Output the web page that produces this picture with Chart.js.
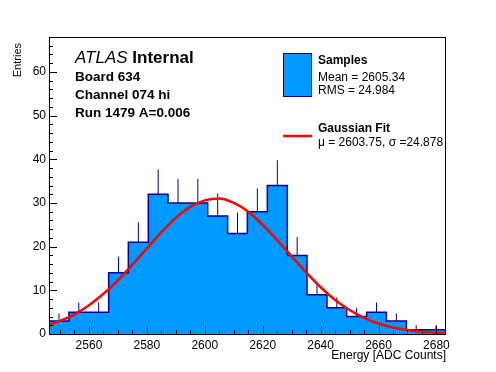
<!DOCTYPE html>
<html>
<head>
<meta charset="utf-8">
<script src="https://cdn.jsdelivr.net/npm/chart.js@4.4.1/dist/chart.umd.min.js"></script>
<style>
  html, body { margin: 0; padding: 0; background: #fff; }
</style>
</head>
<body>
<canvas id="histChart" width="496" height="372"></canvas>
<script>
// histogram bins (lower edges + last upper edge), counts and upper error bars
const binEdges = [2546.2, 2553.1, 2559.9, 2566.8, 2573.6, 2580.5, 2587.3, 2594.2, 2601.0, 2607.9, 2614.7,
                  2621.6, 2628.5, 2635.3, 2642.2, 2649.0, 2655.9, 2662.7, 2669.6, 2676.4, 2683.3];
const counts = [3, 5, 5, 14, 21, 32, 30, 30, 27, 23, 28, 34, 18, 9, 6, 4, 5, 3, 1, 1];
const errors = [1.7, 2.2, 2.2, 3.7, 4.6, 5.7, 5.5, 5.5, 5.2, 4.8, 5.3, 5.8, 4.2, 3.0, 2.4, 2.0, 2.2, 1.7, 1.0, 1.0];

// gaussian fit curve
const fitX = [2545, 2550, 2555, 2560, 2565, 2570, 2575, 2580, 2585, 2590, 2595, 2600, 2605, 2610, 2615,
              2620, 2625, 2630, 2635, 2640, 2645, 2650, 2655, 2660, 2665, 2670, 2675, 2680, 2685];
const fitY = [1.9, 3.0, 4.5, 6.6, 9.2, 12.3, 15.9, 19.6, 23.3, 26.6, 29.1, 30.6, 31.0, 30.0, 28.0,
              25.0, 21.5, 17.8, 14.1, 10.7, 7.8, 5.5, 3.7, 2.4, 1.5, 0.9, 0.5, 0.3, 0.15];

const xTicks = [2560, 2580, 2600, 2620, 2640, 2660, 2680];
const yTicks = [0, 10, 20, 30, 40, 50, 60];
const yMax = 68;

const labelLines = ['Board 634', 'Channel 074 hi', 'Run 1479 A=0.006'];
const sampleStats = ['Mean = 2605.34', 'RMS = 24.984'];
const fitStats = 'μ = 2603.75, σ =24.878';

const FONT = "'Liberation Sans', Arial, Helvetica, sans-serif";
const FILL = '#0099ff';
const EDGE = '#000099';

const histData = counts.map((c, i) => ({ x: binEdges[i], y: c }));
histData.push({ x: binEdges[binEdges.length - 1], y: counts[counts.length - 1] });

const errData = [];
counts.forEach((c, i) => {
  const cx = (binEdges[i] + binEdges[i + 1]) / 2;
  errData.push({ x: cx, y: c }, { x: cx, y: c + errors[i] }, { x: cx, y: null });
});

const fitData = fitX.map((v, i) => ({ x: v, y: fitY[i] }));

const rootStyle = {
  id: 'rootStyle',
  afterDatasetsDraw(chart) {
    const { ctx, chartArea: a, scales: { x, y } } = chart;
    ctx.save();
    ctx.strokeStyle = '#000';
    ctx.lineWidth = 1;
    ctx.beginPath();
    for (let v = 2550; v <= binEdges[binEdges.length - 1]; v += 5) {
      const px = Math.round(x.getPixelForValue(v)) + 0.5;
      const len = xTicks.includes(v) ? 8 : 4;
      ctx.moveTo(px, a.bottom);
      ctx.lineTo(px, a.bottom - len);
    }
    for (let v = 0; v <= yMax; v += 2) {
      const py = Math.round(y.getPixelForValue(v)) + 0.5;
      const len = yTicks.includes(v) ? 8 : 4;
      ctx.moveTo(a.left, py);
      ctx.lineTo(a.left + len, py);
    }
    ctx.stroke();
    ctx.strokeRect(Math.round(a.left) + 0.5, Math.round(a.top) + 0.5,
                   Math.round(a.right - a.left) - 1, Math.round(a.bottom - a.top));
    ctx.restore();
  },
  afterDraw(chart) {
    const { ctx, chartArea: a } = chart;
    ctx.save();
    ctx.fillStyle = '#000';
    ctx.textBaseline = 'middle';

    // axis titles
    ctx.font = '12px ' + FONT;
    ctx.textAlign = 'right';
    ctx.fillText('Energy [ADC Counts]', a.right, 356);
    ctx.font = '11px ' + FONT;
    ctx.save();
    ctx.translate(18, a.top + 6);
    ctx.rotate(-Math.PI / 2);
    ctx.fillText('Entries', 0, 0);
    ctx.restore();

    // ATLAS label block
    ctx.textAlign = 'left';
    ctx.font = 'italic 17px ' + FONT;
    ctx.fillText('ATLAS', 75, 58);
    const w = ctx.measureText('ATLAS ').width;
    ctx.font = 'bold 17px ' + FONT;
    ctx.fillText('Internal', 75 + w, 58);
    ctx.font = 'bold 13.5px ' + FONT;
    labelLines.forEach((t, i) => ctx.fillText(t, 75, 77 + i * 18.3));

    // legend
    ctx.fillStyle = FILL;
    ctx.fillRect(283, 53, 29, 44);
    ctx.strokeStyle = EDGE;
    ctx.lineWidth = 1;
    ctx.strokeRect(283.5, 53.5, 28, 43);
    ctx.fillStyle = '#000';
    ctx.font = 'bold 12px ' + FONT;
    ctx.fillText('Samples', 318, 61);
    ctx.font = '12px ' + FONT;
    ctx.fillText(sampleStats[0], 318, 77.5);
    ctx.fillText(sampleStats[1], 318, 91);
    ctx.strokeStyle = '#ff0000';
    ctx.lineWidth = 2.5;
    ctx.beginPath();
    ctx.moveTo(283, 136);
    ctx.lineTo(312, 136);
    ctx.stroke();
    ctx.font = 'bold 12px ' + FONT;
    ctx.fillText('Gaussian Fit', 318, 129);
    ctx.font = '12px ' + FONT;
    ctx.fillText(fitStats, 318, 142.5);
    ctx.restore();
  }
};

new Chart(document.getElementById('histChart'), {
  type: 'scatter',
  data: {
    datasets: [
      {
        label: 'Gaussian Fit',
        data: fitData,
        showLine: true,
        borderColor: '#ff0000',
        borderWidth: 2.5,
        pointRadius: 0,
        cubicInterpolationMode: 'monotone',
        fill: false
      },
      {
        label: 'errors',
        data: errData,
        showLine: true,
        spanGaps: false,
        borderColor: EDGE,
        borderWidth: 1,
        pointRadius: 0,
        fill: false
      },
      {
        label: 'Samples',
        data: histData,
        showLine: true,
        stepped: true,
        borderColor: EDGE,
        borderWidth: 1.5,
        backgroundColor: FILL,
        pointRadius: 0,
        fill: 'origin'
      }
    ]
  },
  options: {
    responsive: false,
    animation: false,
    devicePixelRatio: 1,
    layout: { padding: { top: 37, right: 50, left: 0, bottom: 0 } },
    plugins: { legend: { display: false }, tooltip: { enabled: false } },
    scales: {
      x: {
        type: 'linear',
        min: binEdges[0],
        max: binEdges[binEdges.length - 1],
        afterBuildTicks: (s) => { s.ticks = xTicks.map(v => ({ value: v })); },
        afterFit: (s) => { s.height = 38; },
        grid: { display: false, drawTicks: false },
        border: { display: false },
        ticks: {
          padding: 4, color: '#000', font: { family: FONT, size: 12 }, maxRotation: 0, autoSkip: false,
          callback: (v) => String(v)
        }
      },
      y: {
        type: 'linear',
        min: 0,
        max: yMax,
        afterBuildTicks: (s) => { s.ticks = yTicks.map(v => ({ value: v })); },
        afterFit: (s) => { s.width = 49; },
        grid: { display: false, drawTicks: false },
        border: { display: false },
        ticks: { padding: 3, color: '#000', font: { family: FONT, size: 12 }, callback: (v) => String(v) }
      }
    }
  },
  plugins: [rootStyle]
});
</script>
</body>
</html>
